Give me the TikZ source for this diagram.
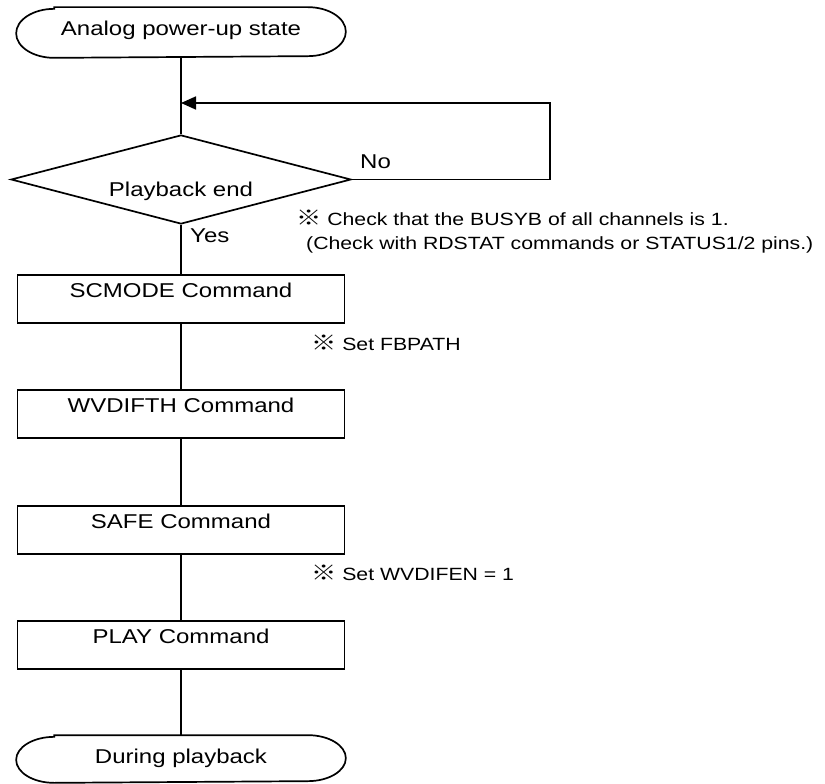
\documentclass[tikz,border=0pt]{standalone}
\usepackage{fontspec}
\setmainfont{Liberation Sans}[FakeStretch=1.2]
\newfontfamily\cjk{Noto Sans CJK JP}[FakeStretch=1.2]
\usetikzlibrary{arrows.meta,shapes.geometric}
\newcommand{\mainsz}{\fontsize{20}{24}\selectfont}
\newcommand{\notesz}{\fontsize{17.7}{23.5}\selectfont}
\newcommand{\refmark}{{\cjk\fontsize{21}{23.5}\selectfont ※}}
\tikzset{
  conn/.style={line width=1.7pt},
  term/.style={line width=1.7pt, minimum width=328pt, inner sep=0pt, font=\mainsz},
  proc/.style={draw, line width=1.7pt, rectangle, minimum width=327pt, minimum height=48pt, inner sep=0pt, text height=22pt, text depth=26pt, font=\mainsz},
  decis/.style={draw, line width=1.7pt, diamond, shape aspect=3.82, minimum width=340pt, minimum height=89pt, inner sep=0pt, text height=34pt, text depth=0pt, font=\mainsz},
  lbl/.style={anchor=base west, inner sep=0pt, font=\mainsz},
  note/.style={anchor=base west, inner sep=0pt, font=\notesz},
}
\newcommand{\stadium}[2]{% node name, half height
  \draw[conn] ([xshift=38pt]#1.north west) -- ([xshift=-38pt]#1.north east)
    arc[start angle=90, end angle=-90, x radius=38pt, y radius=#2]
    -- ([xshift=38pt]#1.south west)
    arc[start angle=270, end angle=90, x radius=38pt, y radius=#2] -- cycle;}
\begin{document}
\begin{tikzpicture}[x=1pt,y=-1pt]
\useasboundingbox (0,0) rectangle (825,784);
\node[term, text height=28pt, text depth=21pt] (start) at (181,32.5) {Analog power-up state};
\stadium{start}{24.5pt}
\node[decis] (dec) at (181,179.5) {Playback end};
\node[proc] (scmode) at (181,299) {SCMODE Command};
\node[proc] (wvdifth) at (181,414) {WVDIFTH Command};
\node[proc] (safe) at (181,530) {SAFE Command};
\node[proc] (play) at (181,645) {PLAY Command};
\node[term, text height=27pt, text depth=19pt] (stop) at (181,759) {During playback};
\stadium{stop}{23pt}

\coordinate (ur) at (550,103);
\coordinate (join) at (181,103);

\draw[conn] (start.south) -- (dec.north);
\draw[conn,-{Triangle[length=15pt,width=13pt]}] (dec.east) -| (ur) -- (join);
\draw[conn] (dec.south) -- (scmode.north);
\draw[conn] (scmode.south) -- (wvdifth.north);
\draw[conn] (wvdifth.south) -- (safe.north);
\draw[conn] (safe.south) -- (play.north);
\draw[conn] (play.south) -- (stop.north);

\node[lbl] (no) at (360,168) {No};
\node[lbl] (yes) at (190,242) {Yes};
\node[note] (n1a) at (296,225) {\refmark\ Check that the BUSYB of all channels is 1.};
\node[note] (n1b) at (306,249) {(Check with RDSTAT commands or STATUS1/2 pins.)};
\node[note] (n2) at (311,350) {\refmark\ Set FBPATH};
\node[note] (n3) at (311,580) {\refmark\ Set WVDIFEN = 1};
\end{tikzpicture}
\end{document}
